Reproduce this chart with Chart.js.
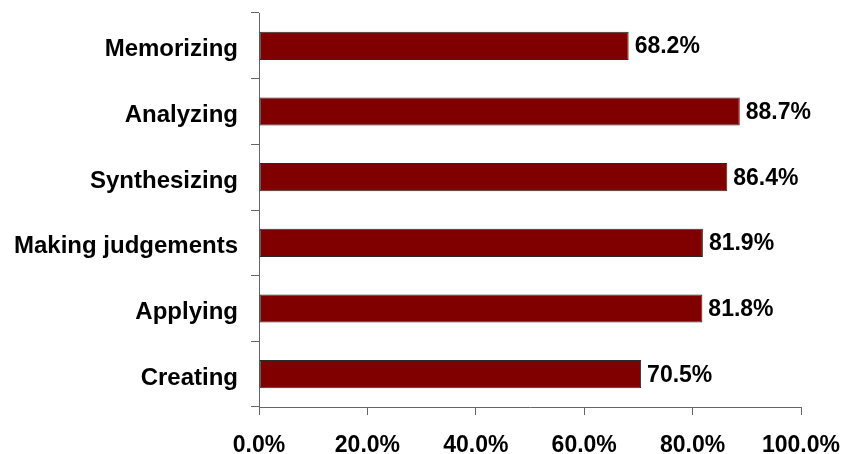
<!DOCTYPE html>
<html>
<head>
<meta charset="utf-8">
<script src="https://cdn.jsdelivr.net/npm/chart.js@4/dist/chart.umd.min.js"></script>
<style>
  html, body { margin: 0; padding: 0; background: #ffffff; }
  #wrap { width: 846px; height: 454px; }
</style>
</head>
<body>
<div id="wrap"><canvas id="c" width="846" height="454"></canvas></div>
<script>
const categories = ["Memorizing", "Analyzing", "Synthesizing", "Making judgements", "Applying", "Creating"];
const values = [68.2, 88.7, 86.4, 81.9, 81.8, 70.5];
const xTicks = [0, 20, 40, 60, 80, 100];

const FONT = "'Liberation Sans', Arial, sans-serif";

const valueLabels = {
  id: 'valueLabels',
  afterDatasetsDraw(chart) {
    const ctx = chart.ctx;
    const meta = chart.getDatasetMeta(0);
    ctx.save();
    ctx.font = "bold 23px " + FONT;
    ctx.fillStyle = '#000000';
    ctx.textAlign = 'left';
    ctx.textBaseline = 'middle';
    meta.data.forEach((bar, i) => {
      ctx.fillText(values[i].toFixed(1) + '%', bar.x + 6, bar.y + 1);
    });
    ctx.restore();
  }
};

new Chart(document.getElementById('c'), {
  type: 'bar',
  data: {
    labels: categories,
    datasets: [{
      data: values,
      backgroundColor: '#800000',
      borderColor: '#2a2a2a',
      borderWidth: 1,
      borderSkipped: false,
      categoryPercentage: 1.0,
      barPercentage: 0.43
    }]
  },
  options: {
    indexAxis: 'y',
    responsive: false,
    animation: false,
    layout: { padding: { top: 13, right: 45, left: 0, bottom: 0 } },
    plugins: {
      legend: { display: false },
      tooltip: { enabled: false }
    },
    scales: {
      x: {
        min: 0,
        max: 100,
        afterBuildTicks(scale) { scale.ticks = xTicks.map(v => ({ value: v })); },
        afterFit(scale) { scale.height = 47; scale.paddingLeft = 0; scale.paddingRight = 0; },
        grid: { drawOnChartArea: false, tickLength: 8, color: '#666666', lineWidth: 1 },
        border: { display: true, color: '#666666', width: 1 },
        ticks: {
          color: '#000000',
          font: { family: FONT, size: 23, weight: 'bold' },
          padding: 17,
          maxRotation: 0,
          autoSkip: false,
          callback: (v) => Number(v).toFixed(1) + '%'
        }
      },
      y: {
        offset: true,
        afterFit(scale) { scale.width = 259; scale.paddingTop = 0; scale.paddingBottom = 0; },
        grid: { drawOnChartArea: false, offset: true, tickLength: 8, color: '#666666', lineWidth: 1 },
        border: { display: true, color: '#666666', width: 1 },
        ticks: {
          color: '#000000',
          font: { family: FONT, size: 24, weight: 'bold' },
          padding: 13,
          labelOffset: 4,
          autoSkip: false
        }
      }
    }
  },
  plugins: [valueLabels]
});
</script>
</body>
</html>
